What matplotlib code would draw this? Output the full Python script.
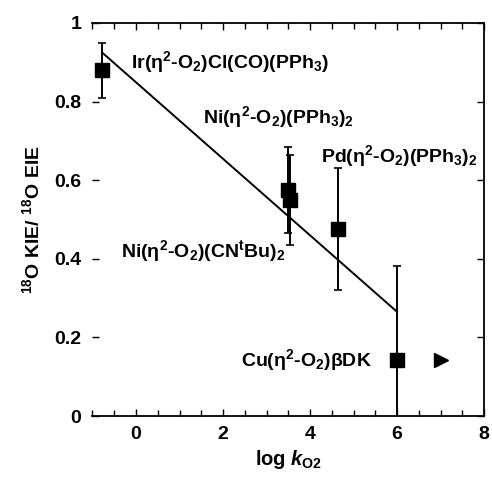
import matplotlib
matplotlib.use("Agg")
import matplotlib.pyplot as plt
from matplotlib.ticker import MultipleLocator

plt.rcParams['font.family'] = ['Liberation Sans', 'DejaVu Sans']
plt.rcParams['font.weight'] = 'bold'
plt.rcParams['mathtext.fontset'] = 'custom'
plt.rcParams['mathtext.rm'] = 'Liberation Sans:bold'
plt.rcParams['mathtext.it'] = 'Liberation Sans:bold:italic'
plt.rcParams['mathtext.bf'] = 'Liberation Sans:bold'
plt.rcParams['mathtext.default'] = 'regular'

# data
log_k = [-0.78, 3.50, 3.55, 4.65, 6.0]
ratio = [0.88, 0.575, 0.55, 0.475, 0.142]
err = [0.07, 0.11, 0.115, 0.155, 0.24]
arrow_x = [7.0]
arrow_y = [0.142]
fit_x = [-0.78, 6.0]
fit_y = [0.925, 0.265]

labels = ['Ir(η$^2$-O$_2$)Cl(CO)(PPh$_3$)',
          'Ni(η$^2$-O$_2$)(PPh$_3$)$_2$',
          'Pd(η$^2$-O$_2$)(PPh$_3$)$_2$',
          'Ni(η$^2$-O$_2$)(CN$^t$Bu)$_2$',
          'Cu(η$^2$-O$_2$)βDK']
label_x = [-0.12, 1.54, 4.24, -0.34, 2.42]
label_y = [0.885, 0.745, 0.647, 0.404, 0.127]

fig = plt.figure(figsize=(4.92, 4.79), dpi=100)
ax = fig.add_axes([0.188, 0.1315, 0.796, 0.8205])

ax.plot(fit_x, fit_y, color='black', lw=1.4, zorder=2)
ax.errorbar(log_k, ratio, yerr=err, fmt='s', color='black', ms=9.5,
            ecolor='black', elinewidth=1.4, capsize=3, capthick=1.2, zorder=3)
ax.plot(arrow_x, arrow_y, marker='>', color='black', ms=10, ls='none')

for t, x, y in zip(labels, label_x, label_y):
    ax.text(x, y, t, fontsize=14, fontweight='bold', va='baseline', ha='left')

ax.set_xlim(-1, 8)
ax.set_ylim(0, 1)
ax.xaxis.set_major_locator(MultipleLocator(2))
ax.xaxis.set_minor_locator(MultipleLocator(0.5))
ax.set_yticks([0, 0.2, 0.4, 0.6, 0.8, 1.0])
ax.set_yticklabels(['0', '0.2', '0.4', '0.6', '0.8', '1'])
ax.tick_params(axis='both', which='both', direction='in', top=True, right=True,
               labelsize=14, width=1.0)
ax.tick_params(axis='both', which='major', length=5, pad=7)
ax.tick_params(axis='both', which='minor', length=4)
ax.tick_params(axis='y', which='major', pad=8)
for lab in ax.get_xticklabels() + ax.get_yticklabels():
    lab.set_fontweight('bold')
ax.spines['left'].set_visible(False)
for s in ['top', 'right', 'bottom']:
    ax.spines[s].set_linewidth(1.3)

ax.set_xlabel('log $\\mathit{k}_{O2}$', fontsize=14.5, fontweight='bold', labelpad=4)
ax.set_ylabel('$^{18}$O KIE/ $^{18}$O EIE', fontsize=14, fontweight='bold', labelpad=8)

fig.savefig('out.png', dpi=100)
